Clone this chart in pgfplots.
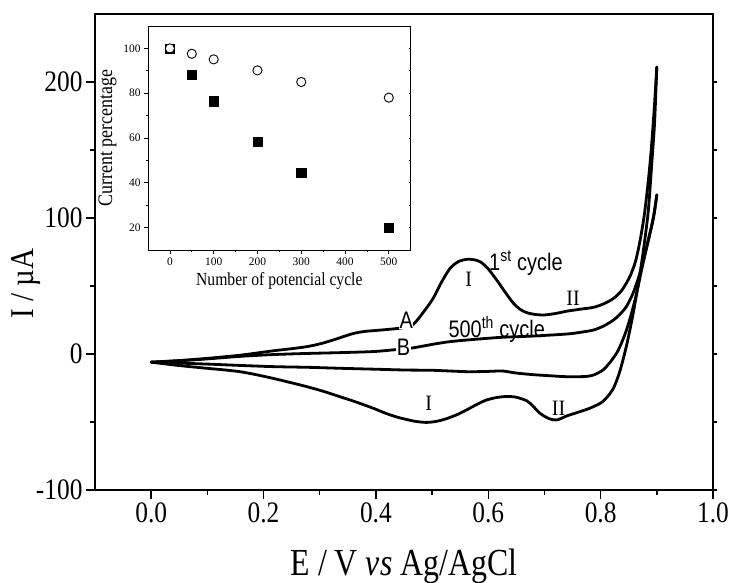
\documentclass[border=0pt]{standalone}
\usepackage{fontspec}
\setmainfont{Liberation Serif}
\newfontfamily\arial{Liberation Sans}
\usepackage{graphicx}
\usepackage{pgfplots}
\usepackage{pgfplotstable}
\pgfplotsset{compat=1.18}
\newcommand{\sy}[2]{\scalebox{1}[#1]{#2}}

\pgfplotstableread{
E I
0.000 -6.0
0.050 -4.8
0.100 -3.2
0.160 -0.8
0.218 2.4
0.250 3.9
0.277 5.4
0.300 7.4
0.324 10.3
0.345 13.2
0.362 15.3
0.380 16.6
0.400 17.3
0.430 18.4
0.450 19.5
0.467 22.0
0.485 31.0
0.502 41.0
0.517 53.0
0.532 63.0
0.547 68.0
0.562 69.6
0.575 69.3
0.587 67.5
0.600 62.5
0.615 54.4
0.630 45.5
0.645 37.2
0.658 32.5
0.670 30.2
0.685 29.0
0.700 28.7
0.720 29.8
0.740 31.5
0.765 33.0
0.787 34.3
0.805 36.8
0.823 40.9
0.838 47.0
0.852 56.9
0.862 68.0
0.870 83.0
0.878 103.0
0.885 128.0
0.890 150.0
0.895 178.0
0.900 211.0
}\firstAn

\pgfplotstableread{
E I
0.900 211
0.896 170
0.891 140
0.885 106
0.878 82
0.870 59
0.858 30
0.846 6
0.834 -13
0.823 -25
0.810 -32.5
0.799 -36.3
0.780 -40
0.763 -42.4
0.740 -45.5
0.722 -48.5
0.708 -47.5
0.692 -43.6
0.680 -38.5
0.669 -34.5
0.650 -31.8
0.633 -31.2
0.615 -32.0
0.597 -33.8
0.580 -37.0
0.562 -41.0
0.545 -44.5
0.526 -47.5
0.508 -49.5
0.490 -50.3
0.470 -49.5
0.443 -47.0
0.420 -44.0
0.396 -40.0
0.366 -35.5
0.336 -31.4
0.307 -27.5
0.277 -24.0
0.248 -21.0
0.218 -18.0
0.188 -15.3
0.158 -13.0
0.128 -11.6
0.099 -10.5
0.050 -8.5
0.000 -6.0
}\firstCat

\pgfplotstableread{
E I
0.000 -6.0
0.050 -5.0
0.100 -3.6
0.160 -1.7
0.218 -0.4
0.277 0.4
0.336 1.0
0.396 1.8
0.430 3.0
0.464 4.4
0.502 7.2
0.530 9.0
0.562 10.3
0.621 12.2
0.680 13.2
0.740 14.7
0.765 16.0
0.787 17.6
0.805 20.5
0.823 25.0
0.835 29.5
0.846 35.0
0.858 45.0
0.870 59.5
0.880 75.0
0.888 89.0
0.895 103.0
0.900 117.0
}\lastAn

\pgfplotstableread{
E I
0.900 117
0.897 108
0.893 98
0.882 79
0.873 62
0.864 44.6
0.855 30
0.846 17.6
0.837 8
0.829 1
0.817 -6
0.805 -11.5
0.790 -15
0.775 -16.5
0.740 -16.7
0.710 -16.0
0.680 -15.2
0.650 -14.0
0.625 -12.5
0.600 -12.8
0.562 -13.0
0.502 -12.0
0.455 -11.8
0.400 -11.2
0.336 -10.5
0.280 -9.8
0.218 -9.3
0.158 -8.4
0.099 -7.4
0.050 -6.7
0.000 -6.0
}\lastCat

\pgfplotstableread{
N P
0 100
50 88.3
100 76.4
200 58.4
300 44.5
500 20
}\squares

\pgfplotstableread{
N P
0 100
50 97.6
100 95.1
200 90.2
300 85.0
500 78.0
}\circles

\begin{document}
\begin{tikzpicture}
\useasboundingbox (-95bp,-93bp) rectangle (639bp,490bp);
% right-hand short ticks of the main frame
\begin{axis}[
  at={(0,0)}, anchor=south west,
  scale only axis, width=618bp, height=476bp,
  xmin=-0.1, xmax=1.0, ymin=-100, ymax=250,
  axis x line=none, axis y line*=right,
  ytick={-100,-50,0,50,100,150,200},
  yticklabels={},
  tick align=outside, major tick length=3.5bp,
  every tick/.style={line width=1.2bp, black},
  axis line style={line width=1.6bp, -},
]
\end{axis}
\begin{axis}[
  at={(0,0)}, anchor=south west,
  scale only axis, width=618bp, height=476bp,
  xmin=-0.1, xmax=1.0, ymin=-100, ymax=250,
  xtick={0,0.2,0.4,0.6,0.8,1.0},
  xticklabels={\sy{1.17}{0.0},\sy{1.17}{0.2},\sy{1.17}{0.4},\sy{1.17}{0.6},\sy{1.17}{0.8},\sy{1.17}{1.0}},
  ytick={-100,0,100,200},
  yticklabels={\sy{1.17}{-100},\sy{1.17}{0},\sy{1.17}{100},\sy{1.17}{200}},
  minor x tick num=1, minor y tick num=1,
  tick align=outside, tick pos=left,
  major tick length=9bp, minor tick length=5bp,
  every tick/.style={line width=1.4bp, black},
  axis line style={line width=1.6bp},
  ticklabel style={font=\fontsize{25.5}{28}\selectfont},
  xlabel={\sy{1.2}{E / V \textit{vs} Ag/AgCl}},
  xlabel style={font=\fontsize{32}{34}\selectfont, at={(axis description cs:0.5,-0.18)}, anchor=base},
  ylabel={\sy{1.15}{I / µA}},
  ylabel style={font=\fontsize{29}{31}\selectfont, at={(axis description cs:-0.112,0.433)}, anchor=center},
  clip=false,
]
\addplot[black, line width=2.8bp, line cap=round, line join=round, smooth, tension=0.45] table[x=E,y=I] {\firstAn};
\addplot[black, line width=2.8bp, line cap=round, line join=round, smooth, tension=0.45] table[x=E,y=I] {\firstCat};
\addplot[black, line width=2.8bp, line cap=round, line join=round, smooth, tension=0.45] table[x=E,y=I] {\lastAn};
\addplot[black, line width=2.8bp, line cap=round, line join=round, smooth, tension=0.45] table[x=E,y=I] {\lastCat};

\node[font=\arial\fontsize{20}{20}\selectfont] at (axis cs:0.667,67) {\sy{1.2}{1\textsuperscript{st} cycle}};
\node[font=\arial\fontsize{20}{20}\selectfont] at (axis cs:0.615,18) {\sy{1.2}{500\textsuperscript{th} cycle}};
\node[font=\arial\fontsize{20}{20}\selectfont, fill=white, inner sep=0.5bp] at (axis cs:0.454,25) {\sy{1.2}{A}};
\node[font=\arial\fontsize{20}{20}\selectfont, fill=white, inner sep=0.5bp] at (axis cs:0.449,5) {\sy{1.2}{B}};
\node[font=\fontsize{20}{20}\selectfont] at (axis cs:0.565,55) {\sy{1.1}{I}};
\node[font=\fontsize{20}{20}\selectfont] at (axis cs:0.751,41) {\sy{1.1}{II}};
\node[font=\fontsize{20}{20}\selectfont] at (axis cs:0.494,-36) {\sy{1.1}{I}};
\node[font=\fontsize{20}{20}\selectfont] at (axis cs:0.725,-40) {\sy{1.1}{II}};
\end{axis}

% right-hand short ticks of the inset
\begin{axis}[
  at={(53bp,240bp)}, anchor=south west,
  scale only axis, width=262.7bp, height=224bp,
  xmin=-50, xmax=550, ymin=10, ymax=110,
  axis x line=none, axis y line*=right,
  ytick={20,30,40,50,60,70,80,90,100},
  yticklabels={},
  tick align=inside, major tick length=2bp,
  every tick/.style={line width=0.6bp, black},
  axis line style={line width=0.8bp, -},
]
\end{axis}
\begin{axis}[
  at={(53bp,240bp)}, anchor=south west,
  scale only axis, width=262.7bp, height=224bp,
  xmin=-50, xmax=550, ymin=10, ymax=110,
  xtick={0,100,200,300,400,500},
  ytick={20,40,60,80,100},
  minor x tick num=1, minor y tick num=1,
  tick align=outside, tick pos=left,
  major tick length=4bp, minor tick length=2.5bp,
  every tick/.style={line width=0.7bp, black},
  axis line style={line width=0.8bp},
  /pgf/number format/assume math mode=true,
  ticklabel style={font=\fontsize{11.5}{12}\selectfont},
  xlabel={\sy{1.18}{Number of potencial cycle}},
  xlabel style={font=\fontsize{15.7}{17}\selectfont},
  ylabel={\sy{1.15}{Current percentage}},
  ylabel style={font=\fontsize{18}{19}\selectfont},
  clip=false,
]
\addplot[only marks, mark=square*, mark size=4.6bp, mark options={fill=black, draw=black}] table[x=N,y=P] {\squares};
\addplot[only marks, mark=*, mark size=4.6bp, mark options={fill=white, draw=black, line width=0.9bp}] table[x=N,y=P] {\circles};
\end{axis}
\end{tikzpicture}
\end{document}
